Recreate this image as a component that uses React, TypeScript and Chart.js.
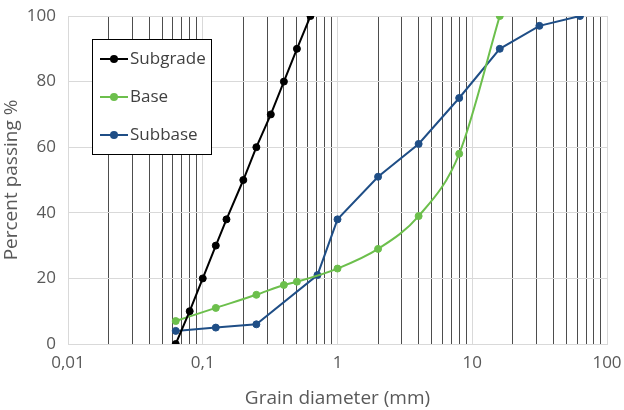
import React, { useEffect, useRef } from "react";
import { Chart, registerables } from "chart.js";

Chart.register(...registerables);

const subgradeSizes = [0.063, 0.08, 0.1, 0.125, 0.15, 0.2, 0.25, 0.32, 0.4, 0.5, 0.63];
const subgradePassing = [0, 10, 20, 30, 38, 50, 60, 70, 80, 90, 100];

const baseSizes = [0.063, 0.125, 0.25, 0.4, 0.5, 1, 2, 4, 8, 16];
const basePassing = [7, 11, 15, 18, 19, 23, 29, 39, 58, 100];

const subbaseSizes = [0.063, 0.125, 0.25, 0.71, 1, 2, 4, 8, 16, 31.5, 63];
const subbasePassing = [4, 5, 6, 21, 38, 51, 61, 75, 90, 97, 100];

const xTickValues = [
  0.01, 0.02, 0.03, 0.04, 0.05, 0.06, 0.07, 0.08, 0.09,
  0.1, 0.2, 0.3, 0.4, 0.5, 0.6, 0.7, 0.8, 0.9,
  1, 2, 3, 4, 5, 6, 7, 8, 9,
  10, 20, 30, 40, 50, 60, 70, 80, 90,
  100,
];
const xMajorLabels: Record<string, string> = { "0.01": "0,01", "0.1": "0,1", "1": "1", "10": "10", "100": "100" };
const yTickStep = 20;

const seriesNames = ["Subgrade", "Base", "Subbase"];
const seriesColors = ["#000000", "#6cbf4c", "#1f4e86"];

const FONT = "'Open Sans', 'Noto Sans', sans-serif";
const TEXT = "#595959";

const isMajor = (v: number) => Math.abs(Math.log10(v) - Math.round(Math.log10(v))) < 1e-6;

export default function App() {
  const ref = useRef<HTMLCanvasElement>(null);
  useEffect(() => {
    if (!ref.current) return;
    const toPts = (xs: number[], ys: number[]) => xs.map((x, i) => ({ x, y: ys[i] }));
    const legendPlugin = {
      id: "boxLegend",
      afterDraw(chart: any) {
        const ctx = chart.ctx;
        const x0 = 92, y0 = 39, w = 119, h = 115;
        ctx.save();
        ctx.fillStyle = "#ffffff";
        ctx.fillRect(x0, y0, w, h);
        ctx.strokeStyle = "#000000";
        ctx.lineWidth = 1;
        ctx.strokeRect(x0 + 0.5, y0 + 0.5, w, h);
        const rows = [59, 97, 135];
        seriesNames.forEach((name, i) => {
          const y = rows[i];
          ctx.strokeStyle = seriesColors[i];
          ctx.lineWidth = 2;
          ctx.beginPath();
          ctx.moveTo(100, y);
          ctx.lineTo(128, y);
          ctx.stroke();
          ctx.fillStyle = seriesColors[i];
          ctx.beginPath();
          ctx.arc(114, y, 4, 0, Math.PI * 2);
          ctx.fill();
          ctx.fillStyle = "#404040";
          ctx.font = `17px ${FONT}`;
          ctx.textBaseline = "middle";
          ctx.textAlign = "left";
          ctx.fillText(name, 130, y);
        });
        ctx.restore();
      },
    };
    const common = {
      borderWidth: 2,
      pointRadius: 3.5,
      pointBorderWidth: 1,
    };
    const chart = new Chart(ref.current, {
      type: "line",
      data: {
        datasets: [
          {
            label: seriesNames[0],
            data: toPts(subgradeSizes, subgradePassing),
            borderColor: seriesColors[0],
            backgroundColor: seriesColors[0],
            tension: 0,
            ...common,
          },
          {
            label: seriesNames[1],
            data: toPts(baseSizes, basePassing),
            borderColor: seriesColors[1],
            backgroundColor: seriesColors[1],
            cubicInterpolationMode: "monotone",
            ...common,
          },
          {
            label: seriesNames[2],
            data: toPts(subbaseSizes, subbasePassing),
            borderColor: seriesColors[2],
            backgroundColor: seriesColors[2],
            tension: 0,
            ...common,
          },
        ],
      },
      options: {
        animation: false,
        responsive: false,
        layout: { autoPadding: false, padding: { top: 16, right: 17, left: 0, bottom: 0 } },
        plugins: { legend: { display: false }, tooltip: { enabled: false } },
        scales: {
          x: {
            type: "logarithmic",
            min: 0.01,
            max: 100,
            afterBuildTicks: (scale: any) => {
              scale.ticks = xTickValues.map((v) => ({ value: v, major: isMajor(v) }));
            },
            afterFit: (scale: any) => {
              scale.height = 66;
              scale.paddingLeft = 0;
              scale.paddingRight = 0;
            },
            ticks: {
              autoSkip: false,
              maxRotation: 0,
              color: TEXT,
              font: { size: 17, family: FONT },
              padding: 9,
              callback: (v: any) => {
                const n = Number(v);
                if (!isMajor(n)) return "";
                const key = String(Math.pow(10, Math.round(Math.log10(n))));
                return xMajorLabels[key] ?? "";
              },
            },
            grid: {
              drawTicks: false,
              color: (c: any) => (c.tick && isMajor(c.tick.value) ? "#d9d9d9" : "#4d4d4d"),
              lineWidth: 1,
            },
            border: { color: "#d9d9d9" },
            title: {
              display: true,
              text: "Grain diameter (mm)",
              color: TEXT,
              font: { size: 19, family: FONT },
              padding: { top: 0, bottom: 0 },
            },
          },
          y: {
            min: 0,
            max: 100,
            ticks: {
              stepSize: yTickStep,
              color: TEXT,
              font: { size: 17, family: FONT },
              padding: 12,
            },
            afterFit: (scale: any) => {
              scale.width = 68;
              scale.paddingTop = 0;
              scale.paddingBottom = 0;
            },
            grid: { drawTicks: false, color: "#d9d9d9", lineWidth: 1 },
            border: { color: "#d9d9d9" },
            title: {
              display: true,
              text: "Percent passing %",
              color: TEXT,
              font: { size: 19, family: FONT },
              padding: { top: 0, bottom: 4 },
            },
          },
        },
      },
      plugins: [legendPlugin],
    } as any);
    return () => chart.destroy();
  }, []);
  return (
    <div style={{ position: "fixed", left: 0, top: 0, width: 624, height: 410, background: "#fff" }}>
      <canvas ref={ref} width={624} height={410} style={{ width: 624, height: 410 }} />
    </div>
  );
}
